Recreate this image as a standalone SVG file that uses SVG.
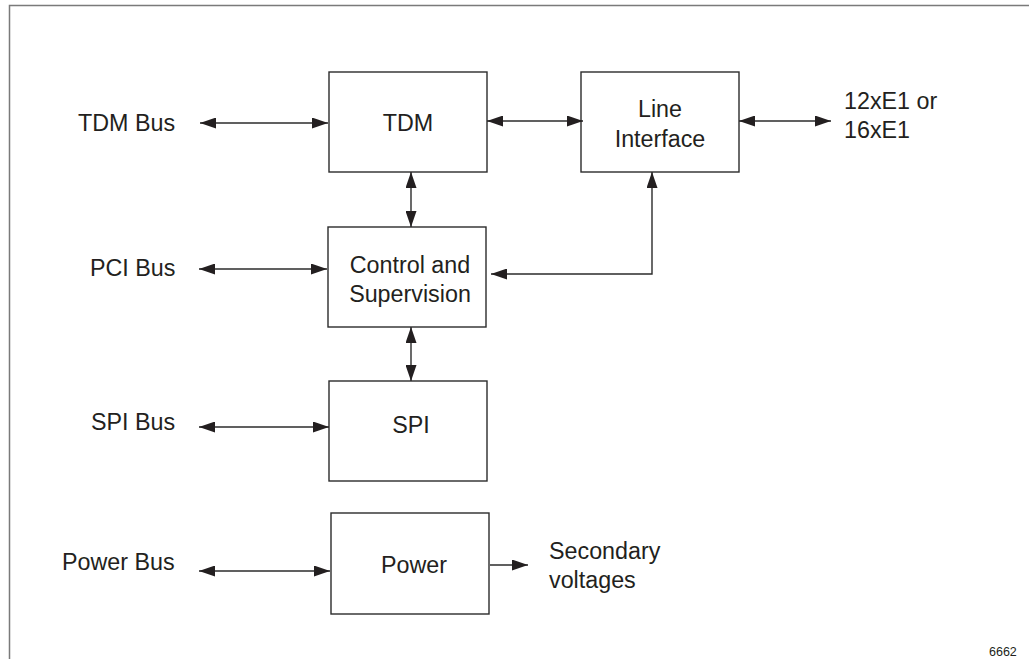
<svg xmlns="http://www.w3.org/2000/svg" width="1029" height="659" viewBox="0 0 1029 659">
<style>
.box{fill:#fff;stroke:#2b2b2b;stroke-width:1.4}
.frame{fill:none;stroke:#7a7a7a;stroke-width:1.5}
.t{font-family:"Liberation Sans",Arial,sans-serif;font-size:23.3px;fill:#231f20}
.c{text-anchor:middle}
.conn{fill:none;stroke:#2b2b2b;stroke-width:1.4}
</style>
<defs>
<marker id="ah" markerUnits="userSpaceOnUse" markerWidth="16" markerHeight="11" refX="16" refY="5.5" orient="auto-start-reverse">
<path d="M0,0 L16,5.5 L0,11 z" fill="#231f20"/>
</marker>
</defs>
<rect width="1029" height="659" fill="#fff"/>
<path class="frame" d="M9.5,659 V5.5 H1029"/>
<g id="labels">
<text class="t" x="78" y="131">TDM Bus</text>
<text class="t" x="90" y="276">PCI Bus</text>
<text class="t" x="91" y="430">SPI Bus</text>
<text class="t" x="62" y="570">Power Bus</text>
<text class="t" x="844" y="109">12xE1 or</text>
<text class="t" x="844" y="138">16xE1</text>
<text class="t" x="549" y="559">Secondary</text>
<text class="t" x="549" y="588">voltages</text>
<text x="989" y="656" style="font-family:'Liberation Sans',Arial,sans-serif;font-size:12.5px;fill:#231f20">6662</text>
</g>
<g id="node-tdm">
<rect class="box" x="329" y="72" width="158" height="100"/>
<text class="t c" x="408" y="131">TDM</text>
</g>
<g id="node-line-interface">
<rect class="box" x="581" y="72" width="158" height="100"/>
<text class="t c" x="660" y="117">Line</text>
<text class="t c" x="660" y="147">Interface</text>
</g>
<g id="node-control">
<rect class="box" x="328" y="227" width="158" height="100"/>
<text class="t c" x="410" y="273">Control and</text>
<text class="t c" x="410" y="302">Supervision</text>
</g>
<g id="node-spi">
<rect class="box" x="329" y="381" width="158" height="100"/>
<text class="t c" x="411" y="433">SPI</text>
</g>
<g id="node-power">
<rect class="box" x="331" y="513" width="158" height="101"/>
<text class="t c" x="414" y="573">Power</text>
</g>
<g id="connectors">
<line class="conn" x1="200" y1="123" x2="328" y2="123" marker-start="url(#ah)" marker-end="url(#ah)"/>
<line class="conn" x1="199" y1="269" x2="327" y2="269" marker-start="url(#ah)" marker-end="url(#ah)"/>
<line class="conn" x1="199" y1="427" x2="329" y2="427" marker-start="url(#ah)" marker-end="url(#ah)"/>
<line class="conn" x1="199" y1="571" x2="330" y2="571" marker-start="url(#ah)" marker-end="url(#ah)"/>
<line class="conn" x1="487" y1="121" x2="583" y2="121" marker-start="url(#ah)" marker-end="url(#ah)"/>
<line class="conn" x1="739" y1="121" x2="831" y2="121" marker-start="url(#ah)" marker-end="url(#ah)"/>
<line class="conn" x1="411" y1="172" x2="411" y2="227" marker-start="url(#ah)" marker-end="url(#ah)"/>
<line class="conn" x1="411" y1="327" x2="411" y2="381" marker-start="url(#ah)" marker-end="url(#ah)"/>
<path class="conn" d="M491,274 H652 V172" marker-start="url(#ah)" marker-end="url(#ah)"/>
<line class="conn" x1="490" y1="565" x2="528" y2="565" marker-end="url(#ah)"/>
</g>
</svg>
